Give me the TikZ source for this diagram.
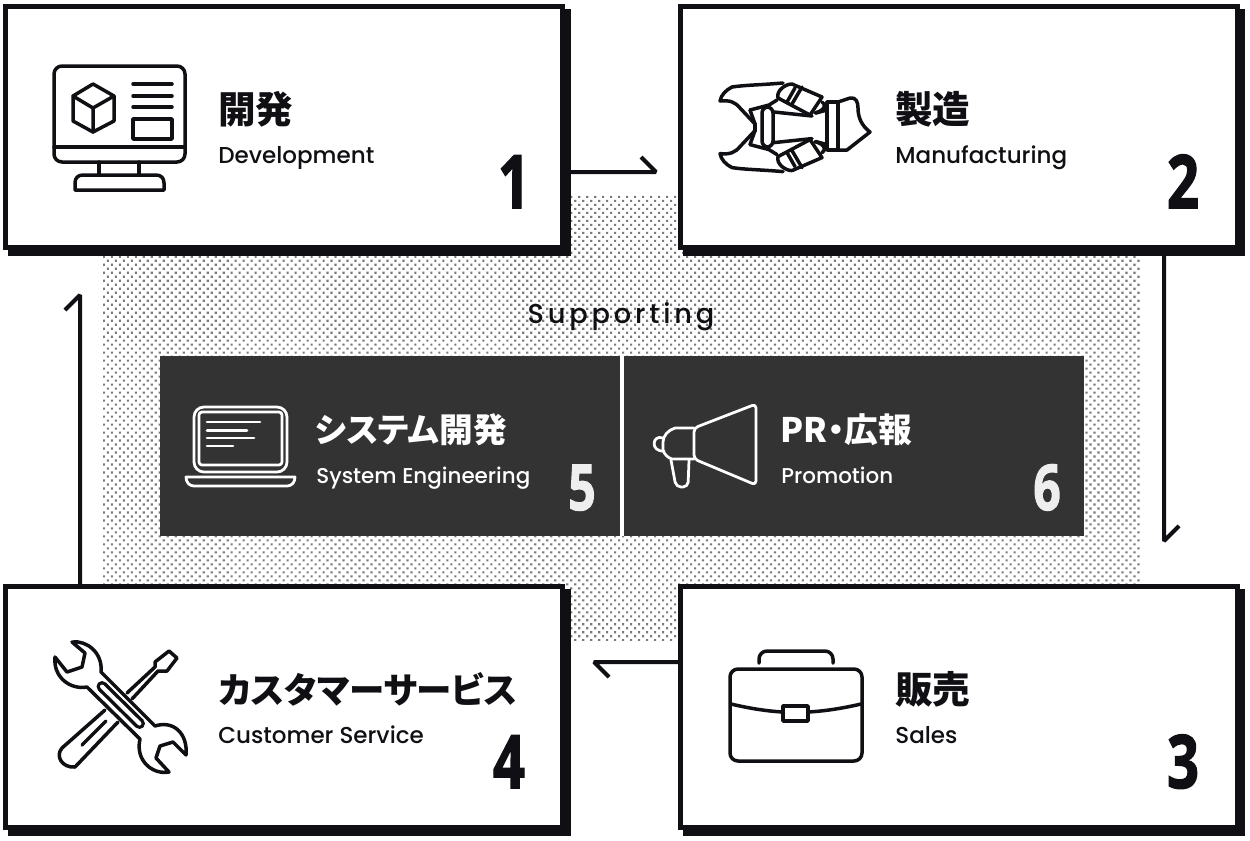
\documentclass[tikz,border=0pt]{standalone}
\usepackage{fontspec}
\usepackage{graphicx}
\usetikzlibrary{positioning, calc, shadows, patterns.meta}
\setmainfont[UprightFont=* Medium]{Poppins}
\newfontfamily\jpfont[RawFeature=+palt]{Noto Sans CJK JP}
\newfontfamily\numfont[BoldFeatures={FakeBold=2}]{Open Sans}
\newfontfamily\spacedfont[UprightFont=* Medium, LetterSpace=14]{Poppins}
\definecolor{Ink}{HTML}{101014}
\definecolor{Panel}{HTML}{333333}
\definecolor{Dots}{HTML}{7A7A7A}
\definecolor{Soft}{HTML}{EEEEEE}
\newcommand{\bignum}[1]{\scalebox{.76}[1]{\bfseries #1}}
\tikzset{
    stagebox/.style={rectangle, draw=Ink, fill=white, line width=.1cm, outer sep=0pt, inner sep=0pt, anchor=north west, minimum width=11.15cm, minimum height=4.84cm,
        copy shadow={shadow xshift=.11cm, shadow yshift=-.11cm, fill=Ink, draw=Ink}},
    supportbox/.style={rectangle, fill=Panel, outer sep=0pt, inner sep=0pt, anchor=north west, minimum width=9.2cm, minimum height=3.6cm},
    flow/.style={draw=Ink, line width=.08cm, line join=bevel},
    icon/.style={draw=Ink, line width=.07cm, line join=round, line cap=round},
    iconlight/.style={draw=white, line width=.055cm, line join=round, line cap=round},
    jptitle/.style={anchor=base west, inner sep=0pt, text=Ink, font=\jpfont\bfseries\fontsize{21.4}{25}\selectfont},
    jplight/.style={jptitle, text=white, font=\jpfont\bfseries\fontsize{19.2}{23}\selectfont},
    entitle/.style={anchor=base west, inner sep=0pt, text=Ink, font=\fontsize{13.1}{16}\selectfont},
    enlight/.style={entitle, text=white, font=\fontsize{12.2}{14}\selectfont},
    number/.style={anchor=base, inner sep=0pt, text=Ink, font=\numfont\fontsize{42}{50}\selectfont},
    numlight/.style={number, text=Soft, font=\numfont\fontsize{36}{42}\selectfont},
}
\begin{document}
\begin{tikzpicture}[x=.02cm, y=-.02cm]
    \useasboundingbox (0,0) rectangle (1250,840);
    \fill[white] (0,0) rectangle (1250,840);

    % Dotted backdrop
    \fill[pattern={Dots[radius=.03cm, distance=.113cm, angle=45]}, pattern color=Dots] (103,195) rectangle (1140,640);

    % Flow between the stages
    \coordinate (toMfg) at (656,172);
    \coordinate (toSales) at (1164,541);
    \coordinate (toService) at (594,662);
    \coordinate (toDev) at (80,295);

    \node[stagebox] (dev) at (5.5,6) {};
    \node[stagebox] (mfg) at (680,6) {};
    \node[stagebox] (sales) at (680,586) {};
    \node[stagebox] (service) at (5.5,586) {};

    \draw[flow] (dev.east |- toMfg) -- (toMfg) -- ++(-15,-15);
    \draw[flow] (mfg.south -| toSales) -- (toSales) -- ++(15,-15);
    \draw[flow] (sales.west |- toService) -- (toService) -- ++(15,15);
    \draw[flow] (service.north -| toDev) -- (toDev) -- ++(-15,15);

    % Supporting
    \node[anchor=base, inner sep=0pt, text=Ink, font=\spacedfont\fontsize{15.5}{18}\selectfont] (support) at (621,323) {Supporting};
    \node[supportbox] (sys) at (160,356) {};
    \node[supportbox] (promo) at (624,356) {};
    \fill[white] (sys.north east) rectangle (promo.south west);

    % Development
    \draw[icon, rounded corners=.16cm] (54,66) rectangle (185,162);
    \draw[icon] (54,147) -- (185,147);
    \draw[icon] (99,162) -- (99,175) (139,162) -- (139,175);
    \draw[icon] (75,190) -- (75,183) .. controls (75,178) and (78,175) .. (83,175) -- (156,175) .. controls (161,175) and (164,178) .. (164,183) -- (164,190) -- cycle;
    \draw[icon] (93,84) -- (114,96) -- (114,121) -- (93,132) -- (73,121) -- (73,96) -- cycle;
    \draw[icon] (73,96) -- (93,108) -- (114,96) (93,108) -- (93,132);
    \foreach \y in {84,96,107} \draw[icon] (133,\y) -- (172,\y);
    \draw[icon] (133,119) rectangle (172,139);
    \node[jptitle] (devjp) at (218,123) {開発};
    \node[entitle] (deven) at (218,163) {Development};
    \node[number] (devnum) at (514,208) {\bignum{1}};

    % Manufacturing
    \foreach \flip in {0,1} {
        \begin{scope}[shift={(0,\flip*254.6)}, yscale={1-2*\flip}]
            \draw[icon] (783,83) .. controls (760,85) and (745,85) .. (732,87) .. controls (726,90) and (721,95) .. (720,101) .. controls (730,100) and (735,102) .. (740,108) -- (755,124);
            \draw[icon] (750,110) -- (769,105) -- (777,100);
            \draw[icon] (750,110) -- (755,124);
            \draw[icon] (774,112) -- (812,116);
            \draw[icon] (792,84) -- (822,97) -- (810,115) -- (778,98) .. controls (776,91) and (785,84) .. (792,84);
            \draw[icon] (795,88) -- (787,102) (802,87) -- (792,104);
            \draw[icon] (822,102) .. controls (826,104) and (826,110) .. (815,113);
            \draw[icon] (816,113) -- (827,110);
        \end{scope}
    }
    \draw[icon] (755,124) -- (755,130.6);
    \draw[icon, rounded corners=.12cm] (762,107) rectangle (773,147);
    \draw[icon] (827,102) rectangle (838,150);
    \draw[icon] (838,102) -- (850,98) .. controls (856,97) and (858,102) .. (858,108) .. controls (858,118) and (862,126) .. (870,132) -- (847,150) -- (838,150);
    \node[jptitle] (mfgjp) at (895,123) {製造};
    \node[entitle] (mfgen) at (895,163) {Manufacturing};
    \node[number] (mfgnum) at (1183,208) {\bignum{2}};

    % Sales
    \draw[icon, rounded corners=.16cm] (730,669) rectangle (862,761);
    \draw[icon, rounded corners=.16cm] (759,663) -- (759,651) -- (833,651) -- (833,663);
    \draw[icon] (731,704) .. controls (748,708) and (765,711) .. (783,712);
    \draw[icon] (808,712) .. controls (826,711) and (844,708) .. (861,704);
    \draw[icon] (783,706) rectangle (808,721);
    \node[jptitle] (salesjp) at (895,703) {販売};
    \node[entitle] (salesen) at (895,743) {Sales};
    \node[number] (salesnum) at (1183,788) {\bignum{3}};

    % Customer Service
    \draw[icon] (127,693) -- (155,667) -- (155,662) -- (169,651) -- (177,658) -- (167,671) -- (158,671) -- (132,699);
    \draw[icon] (105,710) -- (62,748) .. controls (55,756) and (62,768) .. (75,767) -- (118,722);
    \draw[icon] (106,721) -- (82,745);
    \draw[icon, fill=white] (72,642) -- (85,653) -- (82,667) -- (67,672) -- (55,657) .. controls (53,677) and (70,690) .. (87,687) -- (140,739) .. controls (135,760) and (152,775) .. (169,772) -- (156,758) -- (160,746) -- (173,742) -- (186,755) .. controls (188,733) and (173,720) .. (155,726) -- (101,672) .. controls (103,653) and (87,640) .. (72,642) -- cycle;
    \draw[Ink, line width=.22cm, line cap=round] (102,686.5) -- (139.5,723.5);
    \draw[white, line width=.08cm, line cap=round] (102,686.5) -- (139.5,723.5);
    \node[jptitle, font=\jpfont\bfseries\fontsize{20.2}{25}\selectfont] (servicejp) at (218,703) {カスタマーサービス};
    \node[entitle] (serviceen) at (218,743) {Customer Service};
    \node[number] (servicenum) at (509,788) {\bignum{4}};

    % System Engineering
    \draw[iconlight, rounded corners=.2cm] (194,407) rectangle (287,472);
    \draw[iconlight, rounded corners=.06cm] (199,412) rectangle (282,465);
    \draw[iconlight] (207,422) -- (260,422) (207,430.5) -- (247,430.5) (207,438) -- (254,438) (207,446) -- (233,446);
    \draw[iconlight] (186,477) -- (295,477) .. controls (295,482) and (292,486) .. (287,486) -- (194,486) .. controls (189,486) and (186,482) .. (186,477) -- cycle;
    \node[jplight] (sysjp) at (315,442) {システム開発};
    \node[enlight] (sysen) at (316,483) {System Engineering};
    \node[numlight] (sysnum) at (582,510) {\bignum{5}};

    % Promotion
    \draw[iconlight, rounded corners=.08cm] (694,428) -- (756,404) -- (756,485) -- (694,459) -- cycle;
    \draw[iconlight] (694,428) -- (675,428) .. controls (668,430) and (663,436) .. (663,442) -- (663,450) .. controls (664,454) and (668,458) .. (672,459) -- (694,459);
    \draw[iconlight] (663,438) .. controls (652,434) and (650,452) .. (664,451);
    \draw[iconlight, rounded corners=.1cm] (671,460) -- (676,487) -- (688,487) -- (689,460);
    \node[jplight] (promojp) at (780,442) {PR・広報};
    \node[enlight] (promoen) at (781,483) {Promotion};
    \node[numlight] (promonum) at (1047,510) {\bignum{6}};
\end{tikzpicture}
\end{document}
